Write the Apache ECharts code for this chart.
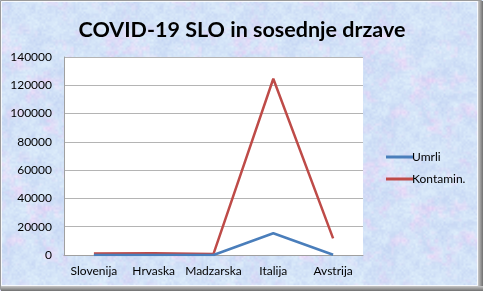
<!DOCTYPE html>
<html><head><meta charset="utf-8">
<script src="https://cdn.jsdelivr.net/npm/echarts@6/dist/echarts.min.js"></script>
<style>html,body{margin:0;padding:0;}#c{width:483px;height:291px;}</style>
</head><body><div id="c"></div>
<script>
const categories = ['Slovenija', 'Hrvaska', 'Madzarska', 'Italija', 'Avstrija'];
const umrli = [28, 15, 34, 15362, 186];
const kontamin = [997, 1182, 733, 124632, 11781];
const yTicks = [0, 20000, 40000, 60000, 80000, 100000, 120000, 140000];

// decorative mottled texture (deterministic value noise)
function makeTexture() {
  const s = 128, cv = document.createElement('canvas');
  cv.width = s; cv.height = s;
  const ctx = cv.getContext('2d');
  const img = ctx.createImageData(s, s);
  function h(x, y, k) { const v = Math.sin(x * 127.1 + y * 311.7 + k * 74.7) * 43758.5453; return v - Math.floor(v); }
  function noise(x, y, cell, k) {
    const n = s / cell;
    const gx = x / cell, gy = y / cell;
    const x0 = Math.floor(gx), y0 = Math.floor(gy);
    const fx = gx - x0, fy = gy - y0;
    const sx = fx * fx * (3 - 2 * fx), sy = fy * fy * (3 - 2 * fy);
    const a = h(x0 % n, y0 % n, k), b = h((x0 + 1) % n, y0 % n, k);
    const c = h(x0 % n, (y0 + 1) % n, k), d = h((x0 + 1) % n, (y0 + 1) % n, k);
    return (a * (1 - sx) + b * sx) * (1 - sy) + (c * (1 - sx) + d * sx) * sy;
  }
  for (let y = 0; y < s; y++) for (let x = 0; x < s; x++) {
    const p = noise(x, y, 16, 1) * 0.6 + noise(x, y, 4, 2) * 0.4;
    const w = noise(x, y, 8, 3) * 0.5 + noise(x, y, 2, 4) * 0.5;
    const i = (y * s + x) * 4;
    const pink = Math.max(0, p - 0.5) * 2;
    const lt = (w - 0.5) * 26;
    img.data[i] = 210 + pink * 26 + lt;
    img.data[i + 1] = 226 - pink * 12 + lt;
    img.data[i + 2] = 247 + lt * 0.3;
    img.data[i + 3] = 255;
  }
  ctx.putImageData(img, 0, 0);
  return cv;
}

const FONT = 'Lato';
const chart = echarts.init(document.getElementById('c'), null, { renderer: 'canvas' });
chart.setOption({
  backgroundColor: '#d8e4f6',
  graphic: [
    { type: 'rect', z: -10, shape: { x: 0, y: 0, width: 483, height: 291 }, style: { fill: { image: makeTexture(), repeat: 'repeat' } }, silent: true },
    { type: 'rect', z: -9, shape: { x: 0.5, y: 0.5, width: 481, height: 289 }, style: { fill: 'none', stroke: '#9a9a9a', lineWidth: 1 }, silent: true },
    { type: 'rect', z: -9, shape: { x: 1.5, y: 1.5, width: 476, height: 284 }, style: { fill: 'none', stroke: '#ffffff', lineWidth: 1, opacity: 0.8 }, silent: true },
    { type: 'rect', z: -9, shape: { x: 478, y: 1, width: 5, height: 290 }, style: { fill: { type: 'linear', x: 0, y: 0, x2: 1, y2: 0, colorStops: [{ offset: 0, color: '#c8c8c8' }, { offset: 1, color: '#6f6f6f' }] } }, silent: true },
    { type: 'rect', z: -9, shape: { x: 1, y: 286, width: 482, height: 5 }, style: { fill: { type: 'linear', x: 0, y: 0, x2: 0, y2: 1, colorStops: [{ offset: 0, color: '#c8c8c8' }, { offset: 1, color: '#6f6f6f' }] } }, silent: true }
  ],
  title: {
    text: 'COVID-19 SLO in sosednje drzave',
    left: 237, top: 14, textAlign: 'center',
    textStyle: { fontFamily: FONT, fontWeight: 'bold', fontSize: 21.5, color: '#000' }
  },
  legend: {
    orient: 'vertical', left: 381, top: 146, itemGap: 10,
    itemWidth: 27, itemHeight: 3, icon: 'rect',
    textStyle: { fontFamily: FONT, fontSize: 12, color: '#000', padding: [0, 0, 0, -6] },
    data: ['Umrli', 'Kontamin.']
  },
  grid: { left: 64, top: 57, width: 299, height: 198, containLabel: false, show: true, backgroundColor: '#ffffff', borderWidth: 0 },
  xAxis: {
    type: 'category', data: categories, boundaryGap: true,
    axisLine: { lineStyle: { color: '#a0a0a0', width: 1 } },
    axisTick: { show: false },
    axisLabel: { fontFamily: FONT, fontSize: 12, color: '#000', margin: 10, interval: 0 }
  },
  yAxis: {
    type: 'value', min: 0, max: 140000, interval: 20000,
    axisLine: { show: true, lineStyle: { color: '#a0a0a0' } },
    axisTick: { show: false },
    splitLine: { lineStyle: { color: '#b4b4b4', width: 1 } },
    axisLabel: { fontFamily: FONT, fontSize: 12, color: '#000', margin: 12,
      formatter: v => yTicks.indexOf(v) >= 0 ? String(v) : '' }
  },
  series: [
    { name: 'Umrli', type: 'line', data: umrli, showSymbol: false, symbol: 'none', lineStyle: { color: '#4a7ebb', width: 2.5 }, itemStyle: { color: '#4a7ebb' }, z: 3 },
    { name: 'Kontamin.', type: 'line', data: kontamin, showSymbol: false, symbol: 'none', lineStyle: { color: '#be4b48', width: 2.5 }, itemStyle: { color: '#be4b48' }, z: 2 }
  ],
  animation: false
});
</script></body></html>
